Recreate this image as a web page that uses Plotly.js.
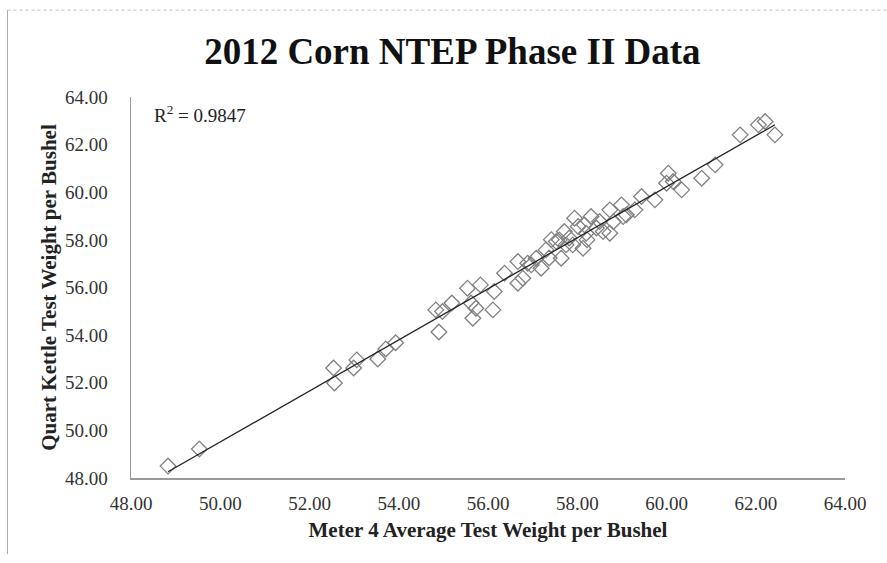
<!DOCTYPE html>
<html>
<head>
<meta charset="utf-8">
<script src="https://cdn.plot.ly/plotly-3.0.1.min.js"></script>
<style>html,body{margin:0;padding:0;background:#fff;}#chart{width:887px;height:563px;}</style>
</head>
<body>
<div id="chart"></div>
<script>
// Meter 4 average test weight per bushel (x)
const meterX = [48.83,49.53,52.54,52.56,52.99,53.06,53.53,53.71,53.93,54.90,54.83,54.98,55.19,55.54,55.83,55.62,55.66,55.73,56.11,56.14,56.37,56.67,56.67,56.78,56.89,57.19,57.08,57.37,57.53,57.64,57.71,57.94,57.90,58.13,58.20,58.31,58.50,58.58,58.73,58.73,58.99,59.03,59.29,59.44,59.74,60.04,60.00,60.15,60.34,60.79,61.09,61.65,62.06,62.21,62.43,57.42,58.02,57.30,57.75,58.16,58.43,58.81,59.10,56.97,57.60,57.82,58.22];
// Quart kettle test weight per bushel (y)
const kettleY = [48.50,49.22,52.62,51.99,52.62,52.96,53.00,53.42,53.68,54.13,55.06,54.99,55.35,55.97,56.11,55.35,54.71,55.13,55.06,55.83,56.60,57.09,56.18,56.39,57.02,56.81,57.23,57.24,57.93,57.23,58.35,58.91,57.79,57.65,58.28,58.98,58.77,58.35,58.28,59.26,59.47,58.98,59.26,59.82,59.68,60.80,60.38,60.45,60.10,60.59,61.15,62.41,62.83,62.97,62.41,58.01,58.56,57.58,57.79,58.63,58.50,58.76,59.05,56.95,58.00,58.08,58.00];
const tickVals = [48,50,52,54,56,58,60,62,64];
const tickText = ["48.00","50.00","52.00","54.00","56.00","58.00","60.00","62.00","64.00"];
const r2Text = "R<sup>2</sup> = 0.9847";

// least-squares trendline from the data
const n = meterX.length;
let sx=0, sy=0, sxx=0, sxy=0;
for (let i=0;i<n;i++){ sx+=meterX[i]; sy+=kettleY[i]; sxx+=meterX[i]*meterX[i]; sxy+=meterX[i]*kettleY[i]; }
const slope = (n*sxy - sx*sy)/(n*sxx - sx*sx);
const intercept = (sy - slope*sx)/n;
const xMin = Math.min(...meterX), xMax = Math.max(...meterX);
const lineX = [xMin, xMax];
const lineY = lineX.map(v => intercept + slope*v);

const serif = "Liberation Serif, DejaVu Serif, serif";
const data = [
  {x: meterX, y: kettleY, type: "scatter", mode: "markers",
   marker: {symbol: "diamond-open", size: 12, color: "#808080", line: {width: 1.3, color: "#808080"}},
   hoverinfo: "x+y", showlegend: false},
  {x: lineX, y: lineY, type: "scatter", mode: "lines",
   line: {color: "#222222", width: 1.3}, showlegend: false}
];
const layout = {
  width: 887, height: 563,
  margin: {l: 131, r: 42, t: 97, b: 85},
  paper_bgcolor: "#ffffff", plot_bgcolor: "#ffffff",
  showlegend: false,
  title: {text: "<b>2012 Corn NTEP Phase II Data</b>", x: 0.51, xanchor: "center", y: 0.91, yanchor: "middle",
          font: {family: serif, size: 37, color: "#111111"}},
  xaxis: {range: [48, 64], tickvals: tickVals, ticktext: tickText, showgrid: false, zeroline: false,
          showline: true, linecolor: "#999999", linewidth: 1.5, ticks: "", ticklabelstandoff: 8,
          tickfont: {family: serif, size: 19, color: "#333333"},
          title: {text: "<b>Meter 4 Average Test Weight per Bushel</b>", standoff: 9,
                  font: {family: serif, size: 21, color: "#222222"}}},
  yaxis: {range: [48, 64], tickvals: tickVals, ticktext: tickText, showgrid: false, zeroline: false,
          showline: true, linecolor: "#999999", linewidth: 1.5, ticks: "", ticklabelstandoff: 18,
          tickfont: {family: serif, size: 19, color: "#333333"},
          title: {text: "<b>Quart Kettle Test Weight per Bushel</b>", standoff: 2,
                  font: {family: serif, size: 21, color: "#222222"}}},
  annotations: [
    {text: r2Text, xref: "paper", yref: "paper", x: 0.029, y: 0.955, xanchor: "left", yanchor: "middle",
     showarrow: false, font: {family: serif, size: 19, color: "#222222"}}
  ],
  shapes: [
    {type: "line", xref: "paper", yref: "paper", x0: -0.173, x1: 1.07, y0: 1.228, y1: 1.228,
     line: {color: "#bbbbbb", width: 1, dash: "dot"}},
    {type: "line", xref: "paper", yref: "paper", x0: -0.173, x1: -0.173, y0: 1.228, y1: -0.2,
     line: {color: "#aaaaaa", width: 1}}
  ]
};
Plotly.newPlot("chart", data, layout, {displayModeBar: false, staticPlot: true});
</script>
</body>
</html>
